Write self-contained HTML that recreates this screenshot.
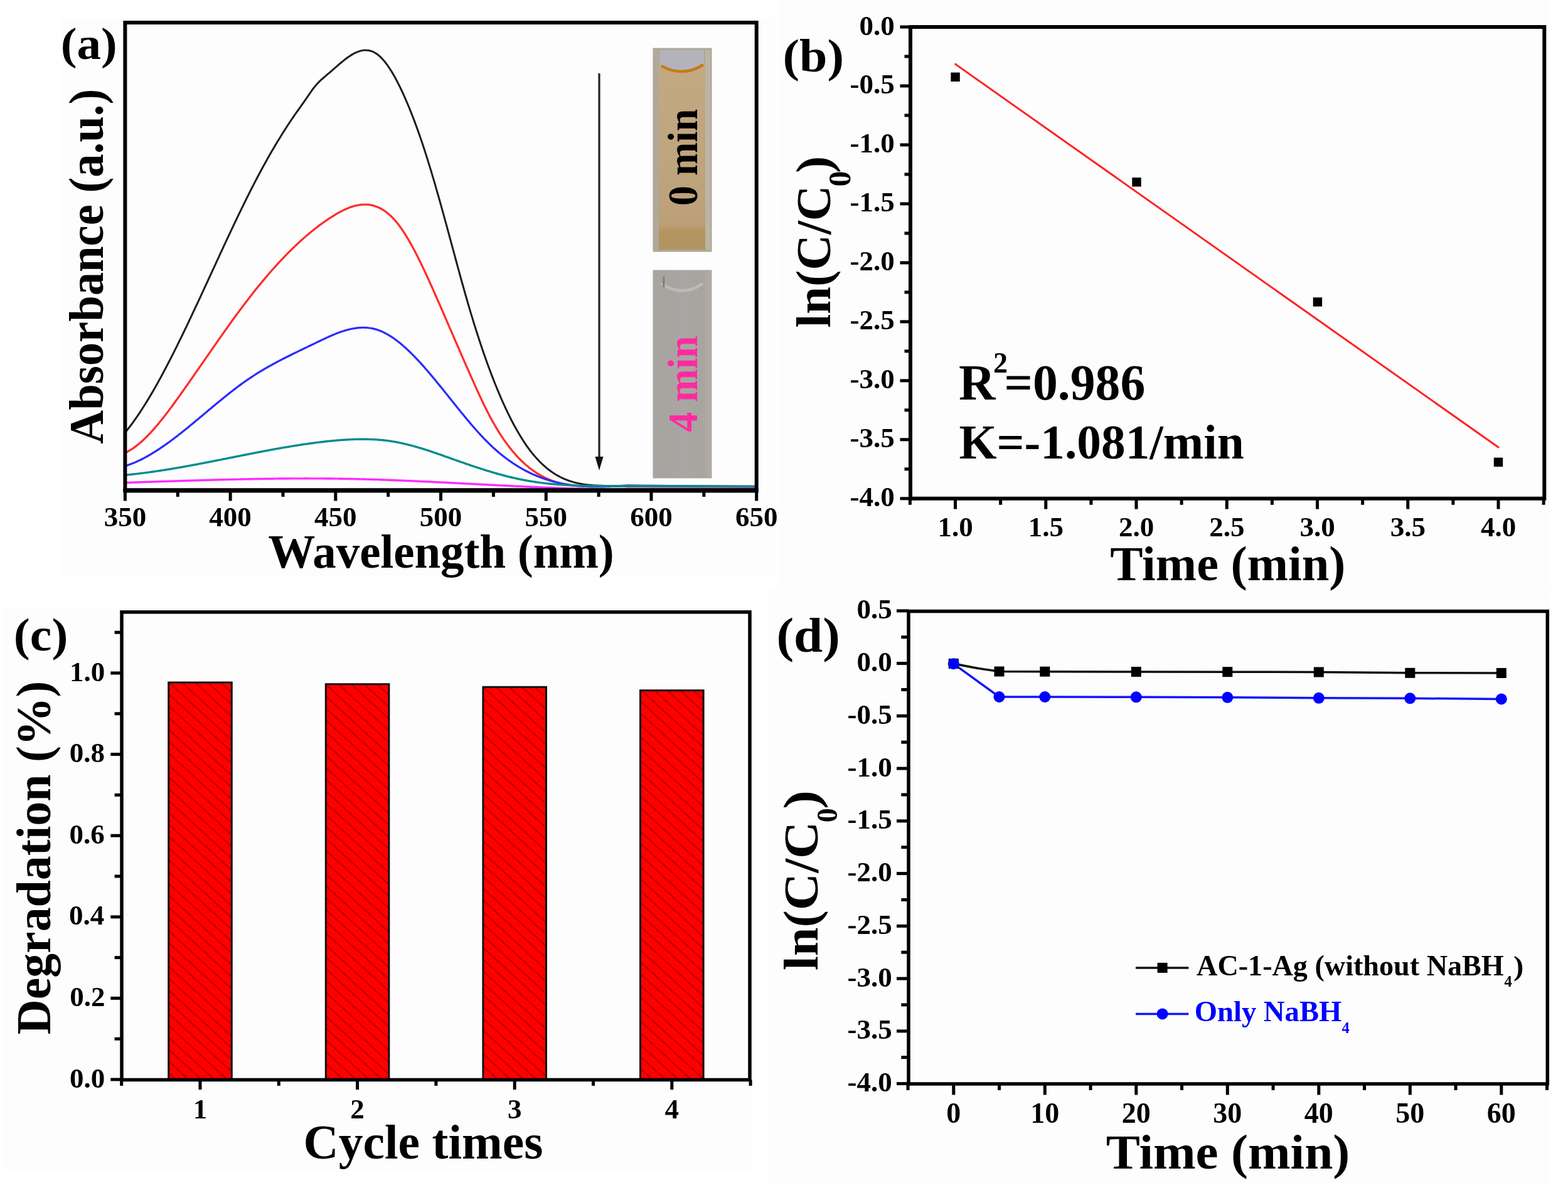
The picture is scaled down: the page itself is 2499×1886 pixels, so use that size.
<!DOCTYPE html>
<html><head><meta charset="utf-8"><title>Figure</title>
<style>html,body{margin:0;padding:0;background:#fff;} body{width:2499px;height:1886px;overflow:hidden;}</style>
</head><body>
<svg width="2499" height="1886" viewBox="0 0 2499 1886" style="display:block;font-family:'Liberation Serif',serif;font-weight:bold">
<rect x="0" y="0" width="2499" height="1886" fill="#ffffff"/>
<rect x="97" y="29" width="1139" height="891" fill="#fdfdfd"/>
<rect x="1240" y="0" width="1230" height="936" fill="#fdfdfd"/>
<rect x="5" y="968" width="1195" height="897" fill="#fdfdfd"/>
<rect x="1224" y="939" width="1246" height="947" fill="#fdfdfd"/>
<defs>
<linearGradient id="liq0" x1="0" y1="0" x2="0" y2="1">
<stop offset="0" stop-color="#c2a982"/><stop offset="0.5" stop-color="#bfa57d"/><stop offset="0.86" stop-color="#bba078"/><stop offset="0.9" stop-color="#b59560"/><stop offset="1" stop-color="#b09465"/></linearGradient>
<linearGradient id="liq4" x1="0" y1="0" x2="1" y2="0">
<stop offset="0" stop-color="#aaa6a0"/><stop offset="0.15" stop-color="#a7a39f"/><stop offset="0.5" stop-color="#a9a6a3"/><stop offset="0.85" stop-color="#a8a5a0"/><stop offset="1" stop-color="#b0aca6"/></linearGradient>
<pattern id="hatch" patternUnits="userSpaceOnUse" width="40" height="13.9" patternTransform="rotate(42.6)">
<rect x="0" y="0" width="40" height="13.9" fill="#ff0000"/>
<line x1="0" y1="7" x2="40" y2="7" stroke="#b80000" stroke-width="2"/></pattern>
</defs>
<rect x="1040.5" y="76.5" width="94" height="325" fill="#b0a898"/>
<rect x="1050" y="104" width="74" height="294" fill="url(#liq0)"/>
<rect x="1124" y="80" width="8" height="318" fill="#bcb4a4"/>
<path d="M1052,80 L1122,80 L1122,104 Q1088,124 1052,106 Z" fill="#b4b3bb"/>
<path d="M1054,105 Q1088,124 1121,103" fill="none" stroke="#c47c14" stroke-width="4.5"/>
<rect x="1040.5" y="430.5" width="94" height="332" fill="url(#liq4)"/>
<path d="M1054,452 Q1088,475 1120,452" fill="none" stroke="#bdbab4" stroke-width="5"/>
<rect x="1056" y="441" width="3.5" height="17" fill="#86827d"/>
<text transform="translate(1111.00,325.60) rotate(-90)" x="-2.43" y="0" font-size="68" textLength="154.40" lengthAdjust="spacingAndGlyphs" fill="#000">0 min</text>
<text transform="translate(1111.00,687.60) rotate(-90)" x="-0.86" y="0" font-size="68" textLength="152.82" lengthAdjust="spacingAndGlyphs" fill="#ff2aa0">4 min</text>
<line x1="955.00" y1="117.00" x2="955.00" y2="732.00" stroke="#222" stroke-width="3.2" stroke-linecap="butt"/>
<path d="M948.5,728 L961.5,728 L955,750 Z" fill="#111"/>
<path d="M200.9,687.74 L202.9,685.26 L204.9,682.72 L206.9,680.13 L208.9,677.48 L210.9,674.79 L212.9,672.04 L214.9,669.24 L216.9,666.39 L218.9,663.50 L220.9,660.55 L222.9,657.56 L224.9,654.52 L226.9,651.43 L228.9,648.30 L230.9,645.13 L232.9,641.91 L234.9,638.66 L236.9,635.35 L238.9,632.01 L240.9,628.63 L242.9,625.21 L244.9,621.75 L246.9,618.26 L248.9,614.72 L250.9,611.15 L252.9,607.55 L254.9,603.91 L256.9,600.24 L258.9,596.54 L260.9,592.80 L262.9,589.03 L264.9,585.24 L266.9,581.41 L268.9,577.55 L270.9,573.67 L272.9,569.76 L274.9,565.82 L276.9,561.86 L278.9,557.88 L280.9,553.87 L282.9,549.83 L284.9,545.78 L286.9,541.70 L288.9,537.61 L290.9,533.49 L292.9,529.36 L294.9,525.20 L296.9,521.04 L298.9,516.85 L300.9,512.65 L302.9,508.43 L304.9,504.20 L306.9,499.96 L308.9,495.70 L310.9,491.43 L312.9,487.16 L314.9,482.87 L316.9,478.57 L318.9,474.27 L320.9,469.95 L322.9,465.64 L324.9,461.31 L326.9,456.98 L328.9,452.65 L330.9,448.31 L332.9,443.97 L334.9,439.63 L336.9,435.29 L338.9,430.94 L340.9,426.60 L342.9,422.26 L344.9,417.93 L346.9,413.59 L348.9,409.26 L350.9,404.93 L352.9,400.61 L354.9,396.30 L356.9,391.99 L358.9,387.70 L360.9,383.41 L362.9,379.13 L364.9,374.86 L366.9,370.60 L368.9,366.35 L370.9,362.12 L372.9,357.90 L374.9,353.70 L376.9,349.51 L378.9,345.33 L380.9,341.18 L382.9,337.04 L384.9,332.92 L386.9,328.82 L388.9,324.74 L390.9,320.68 L392.9,316.65 L394.9,312.63 L396.9,308.64 L398.9,304.67 L400.9,300.73 L402.9,296.82 L404.9,292.93 L406.9,289.07 L408.9,285.24 L410.9,281.43 L412.9,277.66 L414.9,273.92 L416.9,270.20 L418.9,266.52 L420.9,262.87 L422.9,259.25 L424.9,255.66 L426.9,252.10 L428.9,248.57 L430.9,245.07 L432.9,241.60 L434.9,238.16 L436.9,234.76 L438.9,231.38 L440.9,228.03 L442.9,224.72 L444.9,221.43 L446.9,218.17 L448.9,214.95 L450.9,211.75 L452.9,208.59 L454.9,205.46 L456.9,202.35 L458.9,199.28 L460.9,196.24 L462.9,193.22 L464.9,190.24 L466.9,187.29 L468.9,184.37 L470.9,181.48 L472.9,178.65 L474.9,175.86 L476.9,173.08 L478.9,170.29 L480.9,167.49 L482.9,164.66 L484.9,161.80 L486.9,158.91 L488.9,155.99 L490.9,153.06 L492.9,150.14 L494.9,147.26 L496.9,144.44 L498.9,141.71 L500.9,139.10 L502.9,136.63 L504.9,134.32 L506.9,132.17 L508.9,130.13 L510.9,128.18 L512.9,126.32 L514.9,124.52 L516.9,122.78 L518.9,121.08 L520.9,119.39 L522.9,117.72 L524.9,116.04 L526.9,114.34 L528.9,112.62 L530.9,110.88 L532.9,109.14 L534.9,107.39 L536.9,105.64 L538.9,103.91 L540.9,102.19 L542.9,100.49 L544.9,98.81 L546.9,97.17 L548.9,95.57 L550.9,94.02 L552.9,92.52 L554.9,91.07 L556.9,89.69 L558.9,88.38 L560.9,87.15 L562.9,85.99 L564.9,84.93 L566.9,83.95 L568.9,83.07 L570.9,82.30 L572.9,81.63 L574.9,81.07 L576.9,80.63 L578.9,80.31 L580.9,80.11 L582.9,80.05 L584.9,80.13 L586.9,80.35 L588.9,80.71 L590.9,81.23 L592.9,81.90 L594.9,82.74 L596.9,83.74 L598.9,84.92 L600.9,86.27 L602.9,87.80 L604.9,89.51 L606.9,91.38 L608.9,93.43 L610.9,95.64 L612.9,98.01 L614.9,100.53 L616.9,103.22 L618.9,106.05 L620.9,109.02 L622.9,112.14 L624.9,115.40 L626.9,118.79 L628.9,122.31 L630.9,125.96 L632.9,129.74 L634.9,133.63 L636.9,137.65 L638.9,141.77 L640.9,146.01 L642.9,150.35 L644.9,154.80 L646.9,159.35 L648.9,164.01 L650.9,168.77 L652.9,173.64 L654.9,178.61 L656.9,183.69 L658.9,188.87 L660.9,194.15 L662.9,199.54 L664.9,205.04 L666.9,210.63 L668.9,216.33 L670.9,222.13 L672.9,228.03 L674.9,234.04 L676.9,240.15 L678.9,246.36 L680.9,252.67 L682.9,259.08 L684.9,265.58 L686.9,272.18 L688.9,278.86 L690.9,285.62 L692.9,292.45 L694.9,299.36 L696.9,306.33 L698.9,313.37 L700.9,320.46 L702.9,327.61 L704.9,334.81 L706.9,342.05 L708.9,349.33 L710.9,356.64 L712.9,363.98 L714.9,371.36 L716.9,378.75 L718.9,386.15 L720.9,393.56 L722.9,400.97 L724.9,408.37 L726.9,415.76 L728.9,423.13 L730.9,430.47 L732.9,437.77 L734.9,445.04 L736.9,452.25 L738.9,459.41 L740.9,466.51 L742.9,473.53 L744.9,480.48 L746.9,487.35 L748.9,494.13 L750.9,500.82 L752.9,507.43 L754.9,513.95 L756.9,520.38 L758.9,526.72 L760.9,532.98 L762.9,539.16 L764.9,545.24 L766.9,551.24 L768.9,557.16 L770.9,562.98 L772.9,568.72 L774.9,574.38 L776.9,579.95 L778.9,585.43 L780.9,590.82 L782.9,596.13 L784.9,601.36 L786.9,606.50 L788.9,611.55 L790.9,616.51 L792.9,621.39 L794.9,626.19 L796.9,630.90 L798.9,635.52 L800.9,640.06 L802.9,644.51 L804.9,648.87 L806.9,653.15 L808.9,657.35 L810.9,661.46 L812.9,665.48 L814.9,669.42 L816.9,673.27 L818.9,677.04 L820.9,680.72 L822.9,684.32 L824.9,687.83 L826.9,691.26 L828.9,694.60 L830.9,697.86 L832.9,701.03 L834.9,704.11 L836.9,707.12 L838.9,710.03 L840.9,712.87 L842.9,715.61 L844.9,718.28 L846.9,720.86 L848.9,723.36 L850.9,725.78 L852.9,728.12 L854.9,730.38 L856.9,732.57 L858.9,734.69 L860.9,736.73 L862.9,738.70 L864.9,740.59 L866.9,742.42 L868.9,744.18 L870.9,745.88 L872.9,747.50 L874.9,749.07 L876.9,750.57 L878.9,752.01 L880.9,753.39 L882.9,754.71 L884.9,755.97 L886.9,757.18 L888.9,758.33 L890.9,759.43 L892.9,760.48 L894.9,761.48 L896.9,762.42 L898.9,763.32 L900.9,764.17 L902.9,764.97 L904.9,765.74 L906.9,766.45 L908.9,767.13 L910.9,767.76 L912.9,768.36 L914.9,768.92 L916.9,769.44 L918.9,769.93 L920.9,770.38 L922.9,770.80 L924.9,771.19 L926.9,771.55 L928.9,771.88 L930.9,772.18 L932.9,772.46 L934.9,772.71 L936.9,772.94 L938.9,773.15 L940.9,773.34 L942.9,773.51 L944.9,773.66 L946.9,773.79 L948.9,773.91 L950.9,774.01 L952.9,774.10 L954.9,774.18 L956.9,774.25 L958.9,774.31 L960.9,774.36 L962.9,774.40 L964.9,774.45 L966.9,774.48 L968.9,774.52 L970.9,774.55 L972.9,774.59 L974.9,774.62 L976.9,774.66 L978.9,774.71 L980.9,774.76 L982.9,774.81 L984.9,774.88 L986.9,774.95 L988.9,775.04 L990.9,775.13 L992.9,775.24 L994.9,775.37 L996.9,775.51 L998.9,775.67 L1000.0,775.77 L1203.0,775.80" fill="none" stroke="#1e1e1e" stroke-width="3" stroke-linejoin="round"/>
<path d="M199.3,721.91 L201.3,720.98 L203.3,719.97 L205.3,718.89 L207.3,717.73 L209.3,716.50 L211.3,715.21 L213.3,713.84 L215.3,712.40 L217.3,710.90 L219.3,709.34 L221.3,707.72 L223.3,706.03 L225.3,704.28 L227.3,702.48 L229.3,700.62 L231.3,698.71 L233.3,696.74 L235.3,694.72 L237.3,692.66 L239.3,690.54 L241.3,688.38 L243.3,686.17 L245.3,683.92 L247.3,681.63 L249.3,679.29 L251.3,676.92 L253.3,674.51 L255.3,672.07 L257.3,669.59 L259.3,667.07 L261.3,664.53 L263.3,661.96 L265.3,659.36 L267.3,656.73 L269.3,654.08 L271.3,651.40 L273.3,648.71 L275.3,645.99 L277.3,643.26 L279.3,640.50 L281.3,637.74 L283.3,634.95 L285.3,632.16 L287.3,629.36 L289.3,626.54 L291.3,623.72 L293.3,620.89 L295.3,618.06 L297.3,615.21 L299.3,612.36 L301.3,609.51 L303.3,606.65 L305.3,603.78 L307.3,600.91 L309.3,598.04 L311.3,595.16 L313.3,592.28 L315.3,589.40 L317.3,586.52 L319.3,583.63 L321.3,580.74 L323.3,577.85 L325.3,574.97 L327.3,572.08 L329.3,569.19 L331.3,566.31 L333.3,563.42 L335.3,560.54 L337.3,557.66 L339.3,554.78 L341.3,551.91 L343.3,549.04 L345.3,546.17 L347.3,543.31 L349.3,540.46 L351.3,537.61 L353.3,534.77 L355.3,531.93 L357.3,529.10 L359.3,526.28 L361.3,523.47 L363.3,520.66 L365.3,517.87 L367.3,515.08 L369.3,512.30 L371.3,509.54 L373.3,506.78 L375.3,504.04 L377.3,501.31 L379.3,498.59 L381.3,495.88 L383.3,493.18 L385.3,490.50 L387.3,487.84 L389.3,485.18 L391.3,482.55 L393.3,479.93 L395.3,477.32 L397.3,474.73 L399.3,472.16 L401.3,469.60 L403.3,467.06 L405.3,464.54 L407.3,462.03 L409.3,459.54 L411.3,457.07 L413.3,454.62 L415.3,452.18 L417.3,449.76 L419.3,447.36 L421.3,444.97 L423.3,442.61 L425.3,440.26 L427.3,437.93 L429.3,435.62 L431.3,433.32 L433.3,431.05 L435.3,428.79 L437.3,426.55 L439.3,424.33 L441.3,422.13 L443.3,419.94 L445.3,417.78 L447.3,415.63 L449.3,413.51 L451.3,411.40 L453.3,409.31 L455.3,407.25 L457.3,405.20 L459.3,403.17 L461.3,401.16 L463.3,399.17 L465.3,397.20 L467.3,395.25 L469.3,393.32 L471.3,391.41 L473.3,389.53 L475.3,387.66 L477.3,385.81 L479.3,383.98 L481.3,382.18 L483.3,380.39 L485.3,378.63 L487.3,376.89 L489.3,375.16 L491.3,373.46 L493.3,371.78 L495.3,370.13 L497.3,368.49 L499.3,366.88 L501.3,365.28 L503.3,363.71 L505.3,362.16 L507.3,360.64 L509.3,359.13 L511.3,357.65 L513.3,356.19 L515.3,354.75 L517.3,353.34 L519.3,351.95 L521.3,350.58 L523.3,349.23 L525.3,347.91 L527.3,346.61 L529.3,345.34 L531.3,344.08 L533.3,342.86 L535.3,341.66 L537.3,340.49 L539.3,339.35 L541.3,338.25 L543.3,337.18 L545.3,336.15 L547.3,335.16 L549.3,334.20 L551.3,333.29 L553.3,332.43 L555.3,331.61 L557.3,330.84 L559.3,330.12 L561.3,329.45 L563.3,328.84 L565.3,328.28 L567.3,327.78 L569.3,327.34 L571.3,326.96 L573.3,326.65 L575.3,326.40 L577.3,326.21 L579.3,326.10 L581.3,326.05 L583.3,326.08 L585.3,326.18 L587.3,326.36 L589.3,326.62 L591.3,326.95 L593.3,327.37 L595.3,327.88 L597.3,328.46 L599.3,329.14 L601.3,329.90 L603.3,330.76 L605.3,331.71 L607.3,332.75 L609.3,333.89 L611.3,335.13 L613.3,336.47 L615.3,337.92 L617.3,339.46 L619.3,341.11 L621.3,342.88 L623.3,344.75 L625.3,346.73 L627.3,348.82 L629.3,351.04 L631.3,353.36 L633.3,355.81 L635.3,358.38 L637.3,361.05 L639.3,363.84 L641.3,366.73 L643.3,369.73 L645.3,372.83 L647.3,376.03 L649.3,379.31 L651.3,382.69 L653.3,386.16 L655.3,389.71 L657.3,393.34 L659.3,397.05 L661.3,400.83 L663.3,404.68 L665.3,408.60 L667.3,412.59 L669.3,416.63 L671.3,420.74 L673.3,424.89 L675.3,429.10 L677.3,433.36 L679.3,437.66 L681.3,442.00 L683.3,446.38 L685.3,450.79 L687.3,455.24 L689.3,459.71 L691.3,464.21 L693.3,468.73 L695.3,473.27 L697.3,477.82 L699.3,482.39 L701.3,486.96 L703.3,491.55 L705.3,496.14 L707.3,500.74 L709.3,505.34 L711.3,509.95 L713.3,514.57 L715.3,519.19 L717.3,523.80 L719.3,528.42 L721.3,533.05 L723.3,537.67 L725.3,542.28 L727.3,546.90 L729.3,551.51 L731.3,556.12 L733.3,560.72 L735.3,565.31 L737.3,569.90 L739.3,574.48 L741.3,579.05 L743.3,583.61 L745.3,588.16 L747.3,592.69 L749.3,597.21 L751.3,601.72 L753.3,606.21 L755.3,610.69 L757.3,615.13 L759.3,619.56 L761.3,623.94 L763.3,628.29 L765.3,632.60 L767.3,636.86 L769.3,641.06 L771.3,645.21 L773.3,649.29 L775.3,653.31 L777.3,657.26 L779.3,661.13 L781.3,664.92 L783.3,668.63 L785.3,672.25 L787.3,675.79 L789.3,679.25 L791.3,682.63 L793.3,685.93 L795.3,689.15 L797.3,692.30 L799.3,695.36 L801.3,698.36 L803.3,701.28 L805.3,704.12 L807.3,706.90 L809.3,709.60 L811.3,712.23 L813.3,714.79 L815.3,717.28 L817.3,719.70 L819.3,722.06 L821.3,724.35 L823.3,726.57 L825.3,728.73 L827.3,730.83 L829.3,732.86 L831.3,734.84 L833.3,736.75 L835.3,738.60 L837.3,740.40 L839.3,742.13 L841.3,743.81 L843.3,745.43 L845.3,747.00 L847.3,748.52 L849.3,749.98 L851.3,751.38 L853.3,752.74 L855.3,754.05 L857.3,755.30 L859.3,756.51 L861.3,757.67 L863.3,758.79 L865.3,759.85 L867.3,760.88 L869.3,761.85 L871.3,762.79 L873.3,763.68 L875.3,764.54 L877.3,765.35 L879.3,766.12 L881.3,766.85 L883.3,767.55 L885.3,768.21 L887.3,768.83 L889.3,769.42 L891.3,769.98 L893.3,770.50 L895.3,770.99 L897.3,771.45 L899.3,771.88 L901.3,772.28 L903.3,772.65 L905.3,772.99 L907.3,773.31 L909.3,773.60 L911.3,773.87 L913.3,774.11 L915.3,774.33 L917.3,774.53 L919.3,774.71 L921.3,774.86 L923.3,775.00 L925.3,775.12 L927.3,775.23 L929.3,775.31 L931.3,775.38 L933.3,775.44 L935.3,775.48 L937.3,775.51 L939.3,775.53 L941.3,775.54 L943.3,775.54 L945.3,775.53 L947.3,775.51 L949.3,775.48 L951.3,775.45 L953.3,775.41 L955.3,775.37 L957.3,775.33 L959.3,775.28 L961.3,775.23 L963.3,775.18 L965.3,775.13 L967.3,775.08 L969.3,775.03 L971.3,774.99 L973.3,774.95 L975.3,774.91 L977.3,774.89 L979.3,774.86 L981.3,774.85 L983.3,774.84 L985.3,774.85 L987.3,774.86 L989.3,774.88 L991.3,774.92 L993.3,774.97 L995.3,775.04 L997.3,775.12 L999.3,775.21 L1000.0,775.25 L1203.0,775.80" fill="none" stroke="#ff2b2b" stroke-width="3.2" stroke-linejoin="round"/>
<path d="M199.3,742.97 L201.3,742.35 L203.3,741.70 L205.3,741.01 L207.3,740.29 L209.3,739.54 L211.3,738.76 L213.3,737.95 L215.3,737.11 L217.3,736.23 L219.3,735.33 L221.3,734.41 L223.3,733.45 L225.3,732.46 L227.3,731.45 L229.3,730.42 L231.3,729.35 L233.3,728.26 L235.3,727.15 L237.3,726.01 L239.3,724.85 L241.3,723.67 L243.3,722.46 L245.3,721.23 L247.3,719.98 L249.3,718.71 L251.3,717.42 L253.3,716.11 L255.3,714.78 L257.3,713.43 L259.3,712.06 L261.3,710.67 L263.3,709.27 L265.3,707.85 L267.3,706.41 L269.3,704.96 L271.3,703.49 L273.3,702.01 L275.3,700.51 L277.3,699.00 L279.3,697.48 L281.3,695.95 L283.3,694.40 L285.3,692.84 L287.3,691.27 L289.3,689.69 L291.3,688.10 L293.3,686.50 L295.3,684.89 L297.3,683.27 L299.3,681.65 L301.3,680.02 L303.3,678.38 L305.3,676.73 L307.3,675.08 L309.3,673.43 L311.3,671.77 L313.3,670.10 L315.3,668.43 L317.3,666.76 L319.3,665.09 L321.3,663.41 L323.3,661.74 L325.3,660.06 L327.3,658.38 L329.3,656.70 L331.3,655.02 L333.3,653.35 L335.3,651.67 L337.3,650.00 L339.3,648.33 L341.3,646.66 L343.3,645.00 L345.3,643.34 L347.3,641.69 L349.3,640.04 L351.3,638.40 L353.3,636.76 L355.3,635.14 L357.3,633.52 L359.3,631.90 L361.3,630.30 L363.3,628.70 L365.3,627.12 L367.3,625.54 L369.3,623.98 L371.3,622.43 L373.3,620.88 L375.3,619.36 L377.3,617.84 L379.3,616.34 L381.3,614.85 L383.3,613.37 L385.3,611.91 L387.3,610.47 L389.3,609.04 L391.3,607.63 L393.3,606.23 L395.3,604.86 L397.3,603.50 L399.3,602.15 L401.3,600.83 L403.3,599.52 L405.3,598.23 L407.3,596.95 L409.3,595.69 L411.3,594.44 L413.3,593.20 L415.3,591.99 L417.3,590.78 L419.3,589.59 L421.3,588.41 L423.3,587.24 L425.3,586.09 L427.3,584.95 L429.3,583.82 L431.3,582.70 L433.3,581.59 L435.3,580.49 L437.3,579.40 L439.3,578.32 L441.3,577.25 L443.3,576.19 L445.3,575.14 L447.3,574.10 L449.3,573.06 L451.3,572.03 L453.3,571.01 L455.3,569.99 L457.3,568.99 L459.3,567.98 L461.3,566.98 L463.3,565.99 L465.3,565.00 L467.3,564.02 L469.3,563.04 L471.3,562.07 L473.3,561.09 L475.3,560.12 L477.3,559.16 L479.3,558.19 L481.3,557.23 L483.3,556.27 L485.3,555.31 L487.3,554.34 L489.3,553.38 L491.3,552.42 L493.3,551.46 L495.3,550.50 L497.3,549.54 L499.3,548.57 L501.3,547.61 L503.3,546.64 L505.3,545.67 L507.3,544.71 L509.3,543.74 L511.3,542.78 L513.3,541.83 L515.3,540.88 L517.3,539.94 L519.3,539.01 L521.3,538.10 L523.3,537.19 L525.3,536.30 L527.3,535.42 L529.3,534.56 L531.3,533.71 L533.3,532.89 L535.3,532.09 L537.3,531.30 L539.3,530.54 L541.3,529.81 L543.3,529.10 L545.3,528.42 L547.3,527.76 L549.3,527.14 L551.3,526.54 L553.3,525.98 L555.3,525.46 L557.3,524.96 L559.3,524.51 L561.3,524.09 L563.3,523.71 L565.3,523.37 L567.3,523.08 L569.3,522.83 L571.3,522.62 L573.3,522.46 L575.3,522.34 L577.3,522.27 L579.3,522.26 L581.3,522.29 L583.3,522.38 L585.3,522.52 L587.3,522.72 L589.3,522.97 L591.3,523.29 L593.3,523.66 L595.3,524.09 L597.3,524.58 L599.3,525.14 L601.3,525.77 L603.3,526.45 L605.3,527.20 L607.3,528.01 L609.3,528.88 L611.3,529.81 L613.3,530.80 L615.3,531.85 L617.3,532.95 L619.3,534.11 L621.3,535.33 L623.3,536.59 L625.3,537.91 L627.3,539.28 L629.3,540.69 L631.3,542.16 L633.3,543.67 L635.3,545.23 L637.3,546.83 L639.3,548.48 L641.3,550.17 L643.3,551.91 L645.3,553.68 L647.3,555.49 L649.3,557.35 L651.3,559.24 L653.3,561.16 L655.3,563.12 L657.3,565.12 L659.3,567.14 L661.3,569.20 L663.3,571.29 L665.3,573.41 L667.3,575.56 L669.3,577.74 L671.3,579.94 L673.3,582.17 L675.3,584.42 L677.3,586.69 L679.3,588.99 L681.3,591.30 L683.3,593.64 L685.3,596.00 L687.3,598.37 L689.3,600.76 L691.3,603.16 L693.3,605.58 L695.3,608.01 L697.3,610.45 L699.3,612.91 L701.3,615.37 L703.3,617.84 L705.3,620.32 L707.3,622.81 L709.3,625.30 L711.3,627.79 L713.3,630.29 L715.3,632.79 L717.3,635.29 L719.3,637.79 L721.3,640.29 L723.3,642.78 L725.3,645.28 L727.3,647.76 L729.3,650.25 L731.3,652.72 L733.3,655.19 L735.3,657.65 L737.3,660.09 L739.3,662.53 L741.3,664.95 L743.3,667.36 L745.3,669.76 L747.3,672.14 L749.3,674.50 L751.3,676.84 L753.3,679.17 L755.3,681.47 L757.3,683.76 L759.3,686.02 L761.3,688.26 L763.3,690.47 L765.3,692.66 L767.3,694.82 L769.3,696.95 L771.3,699.05 L773.3,701.12 L775.3,703.16 L777.3,705.17 L779.3,707.15 L781.3,709.09 L783.3,710.99 L785.3,712.86 L787.3,714.70 L789.3,716.50 L791.3,718.27 L793.3,720.00 L795.3,721.70 L797.3,723.37 L799.3,725.01 L801.3,726.61 L803.3,728.18 L805.3,729.72 L807.3,731.22 L809.3,732.70 L811.3,734.14 L813.3,735.56 L815.3,736.94 L817.3,738.29 L819.3,739.62 L821.3,740.91 L823.3,742.17 L825.3,743.41 L827.3,744.62 L829.3,745.80 L831.3,746.95 L833.3,748.07 L835.3,749.17 L837.3,750.23 L839.3,751.27 L841.3,752.29 L843.3,753.28 L845.3,754.24 L847.3,755.18 L849.3,756.09 L851.3,756.98 L853.3,757.84 L855.3,758.68 L857.3,759.49 L859.3,760.28 L861.3,761.04 L863.3,761.79 L865.3,762.51 L867.3,763.20 L869.3,763.88 L871.3,764.53 L873.3,765.16 L875.3,765.77 L877.3,766.36 L879.3,766.92 L881.3,767.47 L883.3,768.00 L885.3,768.50 L887.3,768.99 L889.3,769.46 L891.3,769.90 L893.3,770.33 L895.3,770.74 L897.3,771.13 L899.3,771.51 L901.3,771.86 L903.3,772.20 L905.3,772.53 L907.3,772.83 L909.3,773.12 L911.3,773.39 L913.3,773.65 L915.3,773.89 L917.3,774.12 L919.3,774.33 L921.3,774.52 L923.3,774.71 L925.3,774.87 L927.3,775.03 L929.3,775.17 L931.3,775.30 L933.3,775.41 L935.3,775.51 L937.3,775.60 L939.3,775.68 L941.3,775.75 L943.3,775.80 L945.3,775.85 L947.3,775.88 L949.3,775.90 L951.3,775.91 L953.3,775.91 L955.3,775.91 L957.3,775.89 L959.3,775.86 L961.3,775.83 L963.3,775.79 L965.3,775.73 L967.3,775.68 L969.3,775.61 L971.3,775.53 L973.3,775.45 L975.3,775.37 L977.3,775.27 L979.3,775.17 L981.3,775.07 L983.3,774.96 L985.3,774.84 L987.3,774.72 L989.3,774.59 L991.3,774.46 L993.3,774.33 L995.3,774.19 L997.3,774.05 L999.3,773.91 L1000.0,773.85 L1203.0,775.80" fill="none" stroke="#2b2bff" stroke-width="3.2" stroke-linejoin="round"/>
<path d="M200.0,757.27 L202.0,757.08 L204.0,756.89 L206.0,756.69 L208.0,756.48 L210.0,756.27 L212.0,756.06 L214.0,755.84 L216.0,755.61 L218.0,755.38 L220.0,755.15 L222.0,754.91 L224.0,754.67 L226.0,754.42 L228.0,754.17 L230.0,753.92 L232.0,753.66 L234.0,753.39 L236.0,753.13 L238.0,752.86 L240.0,752.58 L242.0,752.30 L244.0,752.02 L246.0,751.73 L248.0,751.44 L250.0,751.15 L252.0,750.85 L254.0,750.55 L256.0,750.25 L258.0,749.94 L260.0,749.63 L262.0,749.31 L264.0,749.00 L266.0,748.68 L268.0,748.35 L270.0,748.03 L272.0,747.70 L274.0,747.36 L276.0,747.03 L278.0,746.69 L280.0,746.35 L282.0,746.01 L284.0,745.66 L286.0,745.31 L288.0,744.96 L290.0,744.61 L292.0,744.25 L294.0,743.90 L296.0,743.54 L298.0,743.17 L300.0,742.81 L302.0,742.44 L304.0,742.07 L306.0,741.70 L308.0,741.33 L310.0,740.96 L312.0,740.58 L314.0,740.21 L316.0,739.83 L318.0,739.45 L320.0,739.06 L322.0,738.68 L324.0,738.30 L326.0,737.91 L328.0,737.52 L330.0,737.13 L332.0,736.75 L334.0,736.35 L336.0,735.96 L338.0,735.57 L340.0,735.18 L342.0,734.78 L344.0,734.39 L346.0,733.99 L348.0,733.60 L350.0,733.20 L352.0,732.80 L354.0,732.40 L356.0,732.00 L358.0,731.61 L360.0,731.21 L362.0,730.81 L364.0,730.41 L366.0,730.01 L368.0,729.61 L370.0,729.21 L372.0,728.81 L374.0,728.41 L376.0,728.01 L378.0,727.61 L380.0,727.21 L382.0,726.82 L384.0,726.42 L386.0,726.02 L388.0,725.62 L390.0,725.23 L392.0,724.83 L394.0,724.44 L396.0,724.04 L398.0,723.65 L400.0,723.26 L402.0,722.87 L404.0,722.48 L406.0,722.09 L408.0,721.70 L410.0,721.31 L412.0,720.93 L414.0,720.54 L416.0,720.16 L418.0,719.78 L420.0,719.40 L422.0,719.02 L424.0,718.65 L426.0,718.27 L428.0,717.90 L430.0,717.53 L432.0,717.16 L434.0,716.79 L436.0,716.43 L438.0,716.06 L440.0,715.70 L442.0,715.34 L444.0,714.99 L446.0,714.63 L448.0,714.28 L450.0,713.93 L452.0,713.59 L454.0,713.24 L456.0,712.90 L458.0,712.56 L460.0,712.23 L462.0,711.89 L464.0,711.56 L466.0,711.24 L468.0,710.91 L470.0,710.59 L472.0,710.27 L474.0,709.96 L476.0,709.65 L478.0,709.34 L480.0,709.04 L482.0,708.73 L484.0,708.44 L486.0,708.14 L488.0,707.85 L490.0,707.57 L492.0,707.29 L494.0,707.01 L496.0,706.73 L498.0,706.46 L500.0,706.20 L502.0,705.93 L504.0,705.68 L506.0,705.42 L508.0,705.17 L510.0,704.93 L512.0,704.69 L514.0,704.45 L516.0,704.22 L518.0,704.00 L520.0,703.77 L522.0,703.56 L524.0,703.34 L526.0,703.14 L528.0,702.94 L530.0,702.74 L532.0,702.55 L534.0,702.36 L536.0,702.18 L538.0,702.01 L540.0,701.84 L542.0,701.68 L544.0,701.53 L546.0,701.38 L548.0,701.24 L550.0,701.11 L552.0,700.99 L554.0,700.87 L556.0,700.77 L558.0,700.67 L560.0,700.58 L562.0,700.49 L564.0,700.42 L566.0,700.36 L568.0,700.30 L570.0,700.26 L572.0,700.23 L574.0,700.20 L576.0,700.19 L578.0,700.18 L580.0,700.19 L582.0,700.21 L584.0,700.24 L586.0,700.28 L588.0,700.33 L590.0,700.40 L592.0,700.47 L594.0,700.56 L596.0,700.66 L598.0,700.78 L600.0,700.91 L602.0,701.05 L604.0,701.20 L606.0,701.37 L608.0,701.55 L610.0,701.74 L612.0,701.95 L614.0,702.18 L616.0,702.41 L618.0,702.67 L620.0,702.93 L622.0,703.22 L624.0,703.52 L626.0,703.83 L628.0,704.16 L630.0,704.51 L632.0,704.87 L634.0,705.25 L636.0,705.65 L638.0,706.06 L640.0,706.48 L642.0,706.92 L644.0,707.37 L646.0,707.84 L648.0,708.32 L650.0,708.81 L652.0,709.32 L654.0,709.83 L656.0,710.36 L658.0,710.90 L660.0,711.46 L662.0,712.02 L664.0,712.59 L666.0,713.17 L668.0,713.77 L670.0,714.37 L672.0,714.98 L674.0,715.60 L676.0,716.23 L678.0,716.86 L680.0,717.50 L682.0,718.15 L684.0,718.81 L686.0,719.47 L688.0,720.14 L690.0,720.81 L692.0,721.49 L694.0,722.18 L696.0,722.86 L698.0,723.56 L700.0,724.25 L702.0,724.95 L704.0,725.65 L706.0,726.36 L708.0,727.07 L710.0,727.78 L712.0,728.49 L714.0,729.20 L716.0,729.91 L718.0,730.63 L720.0,731.34 L722.0,732.05 L724.0,732.76 L726.0,733.48 L728.0,734.19 L730.0,734.89 L732.0,735.60 L734.0,736.30 L736.0,737.01 L738.0,737.70 L740.0,738.40 L742.0,739.09 L744.0,739.78 L746.0,740.47 L748.0,741.15 L750.0,741.83 L752.0,742.50 L754.0,743.18 L756.0,743.84 L758.0,744.51 L760.0,745.17 L762.0,745.82 L764.0,746.47 L766.0,747.11 L768.0,747.75 L770.0,748.39 L772.0,749.02 L774.0,749.64 L776.0,750.26 L778.0,750.88 L780.0,751.48 L782.0,752.08 L784.0,752.68 L786.0,753.27 L788.0,753.85 L790.0,754.43 L792.0,755.00 L794.0,755.56 L796.0,756.11 L798.0,756.66 L800.0,757.20 L802.0,757.74 L804.0,758.26 L806.0,758.78 L808.0,759.29 L810.0,759.79 L812.0,760.29 L814.0,760.77 L816.0,761.25 L818.0,761.72 L820.0,762.18 L822.0,762.63 L824.0,763.07 L826.0,763.50 L828.0,763.93 L830.0,764.34 L832.0,764.74 L834.0,765.14 L836.0,765.52 L838.0,765.89 L840.0,766.26 L842.0,766.61 L844.0,766.95 L846.0,767.29 L848.0,767.61 L850.0,767.93 L852.0,768.24 L854.0,768.53 L856.0,768.82 L858.0,769.10 L860.0,769.37 L862.0,769.63 L864.0,769.89 L866.0,770.13 L868.0,770.37 L870.0,770.60 L872.0,770.82 L874.0,771.03 L876.0,771.24 L878.0,771.44 L880.0,771.63 L882.0,771.81 L884.0,771.99 L886.0,772.16 L888.0,772.32 L890.0,772.47 L892.0,772.62 L894.0,772.77 L896.0,772.90 L898.0,773.04 L900.0,773.16 L902.0,773.28 L904.0,773.39 L906.0,773.50 L908.0,773.60 L910.0,773.70 L912.0,773.79 L914.0,773.88 L916.0,773.96 L918.0,774.04 L920.0,774.11 L922.0,774.18 L924.0,774.24 L926.0,774.30 L928.0,774.35 L930.0,774.41 L932.0,774.45 L934.0,774.50 L936.0,774.54 L938.0,774.57 L940.0,774.61 L942.0,774.64 L944.0,774.66 L946.0,774.69 L948.0,774.71 L950.0,774.73 L952.0,774.74 L954.0,774.76 L956.0,774.77 L958.0,774.78 L960.0,774.79 L962.0,774.79 L964.0,774.80 L966.0,774.80 L968.0,774.80 L970.0,774.80 L972.0,774.80 L974.0,774.80 L976.0,774.80 L978.0,774.79 L980.0,774.79 L982.0,774.79 L984.0,774.78 L986.0,774.78 L988.0,774.77 L990.0,774.77 L992.0,774.76 L994.0,774.76 L996.0,774.75 L998.0,774.75 L1000.0,774.75 L1203.0,775.30" fill="none" stroke="#008c8c" stroke-width="3.4" stroke-linejoin="round"/>
<path d="M200.0,769.53 L202.0,769.46 L204.0,769.39 L206.0,769.33 L208.0,769.26 L210.0,769.20 L212.0,769.13 L214.0,769.06 L216.0,769.00 L218.0,768.93 L220.0,768.86 L222.0,768.80 L224.0,768.73 L226.0,768.66 L228.0,768.60 L230.0,768.53 L232.0,768.47 L234.0,768.40 L236.0,768.33 L238.0,768.27 L240.0,768.20 L242.0,768.13 L244.0,768.07 L246.0,768.00 L248.0,767.94 L250.0,767.87 L252.0,767.80 L254.0,767.74 L256.0,767.67 L258.0,767.61 L260.0,767.54 L262.0,767.47 L264.0,767.41 L266.0,767.34 L268.0,767.28 L270.0,767.21 L272.0,767.15 L274.0,767.09 L276.0,767.02 L278.0,766.96 L280.0,766.89 L282.0,766.83 L284.0,766.77 L286.0,766.70 L288.0,766.64 L290.0,766.58 L292.0,766.51 L294.0,766.45 L296.0,766.39 L298.0,766.33 L300.0,766.27 L302.0,766.21 L304.0,766.14 L306.0,766.08 L308.0,766.02 L310.0,765.96 L312.0,765.90 L314.0,765.84 L316.0,765.79 L318.0,765.73 L320.0,765.67 L322.0,765.61 L324.0,765.55 L326.0,765.50 L328.0,765.44 L330.0,765.38 L332.0,765.33 L334.0,765.27 L336.0,765.22 L338.0,765.16 L340.0,765.11 L342.0,765.05 L344.0,765.00 L346.0,764.95 L348.0,764.89 L350.0,764.84 L352.0,764.79 L354.0,764.74 L356.0,764.69 L358.0,764.64 L360.0,764.59 L362.0,764.54 L364.0,764.49 L366.0,764.44 L368.0,764.39 L370.0,764.35 L372.0,764.30 L374.0,764.25 L376.0,764.21 L378.0,764.16 L380.0,764.12 L382.0,764.08 L384.0,764.03 L386.0,763.99 L388.0,763.95 L390.0,763.91 L392.0,763.87 L394.0,763.83 L396.0,763.79 L398.0,763.75 L400.0,763.71 L402.0,763.68 L404.0,763.64 L406.0,763.60 L408.0,763.57 L410.0,763.53 L412.0,763.50 L414.0,763.47 L416.0,763.43 L418.0,763.40 L420.0,763.37 L422.0,763.34 L424.0,763.31 L426.0,763.28 L428.0,763.26 L430.0,763.23 L432.0,763.20 L434.0,763.18 L436.0,763.15 L438.0,763.13 L440.0,763.11 L442.0,763.09 L444.0,763.06 L446.0,763.04 L448.0,763.02 L450.0,763.01 L452.0,762.99 L454.0,762.97 L456.0,762.95 L458.0,762.94 L460.0,762.93 L462.0,762.91 L464.0,762.90 L466.0,762.89 L468.0,762.88 L470.0,762.87 L472.0,762.86 L474.0,762.85 L476.0,762.84 L478.0,762.84 L480.0,762.83 L482.0,762.83 L484.0,762.83 L486.0,762.82 L488.0,762.82 L490.0,762.82 L492.0,762.83 L494.0,762.83 L496.0,762.83 L498.0,762.84 L500.0,762.84 L502.0,762.85 L504.0,762.85 L506.0,762.86 L508.0,762.87 L510.0,762.88 L512.0,762.90 L514.0,762.91 L516.0,762.92 L518.0,762.94 L520.0,762.95 L522.0,762.97 L524.0,762.99 L526.0,763.01 L528.0,763.03 L530.0,763.05 L532.0,763.08 L534.0,763.10 L536.0,763.13 L538.0,763.15 L540.0,763.18 L542.0,763.21 L544.0,763.24 L546.0,763.27 L548.0,763.31 L550.0,763.34 L552.0,763.38 L554.0,763.41 L556.0,763.45 L558.0,763.49 L560.0,763.53 L562.0,763.57 L564.0,763.62 L566.0,763.66 L568.0,763.71 L570.0,763.75 L572.0,763.80 L574.0,763.85 L576.0,763.90 L578.0,763.95 L580.0,764.01 L582.0,764.06 L584.0,764.12 L586.0,764.17 L588.0,764.23 L590.0,764.29 L592.0,764.35 L594.0,764.41 L596.0,764.47 L598.0,764.54 L600.0,764.60 L602.0,764.66 L604.0,764.73 L606.0,764.80 L608.0,764.87 L610.0,764.94 L612.0,765.01 L614.0,765.08 L616.0,765.15 L618.0,765.22 L620.0,765.30 L622.0,765.37 L624.0,765.45 L626.0,765.52 L628.0,765.60 L630.0,765.68 L632.0,765.76 L634.0,765.84 L636.0,765.92 L638.0,766.00 L640.0,766.08 L642.0,766.17 L644.0,766.25 L646.0,766.33 L648.0,766.42 L650.0,766.50 L652.0,766.59 L654.0,766.68 L656.0,766.77 L658.0,766.86 L660.0,766.94 L662.0,767.03 L664.0,767.13 L666.0,767.22 L668.0,767.31 L670.0,767.40 L672.0,767.49 L674.0,767.59 L676.0,767.68 L678.0,767.78 L680.0,767.87 L682.0,767.97 L684.0,768.06 L686.0,768.16 L688.0,768.26 L690.0,768.35 L692.0,768.45 L694.0,768.55 L696.0,768.65 L698.0,768.75 L700.0,768.85 L702.0,768.95 L704.0,769.05 L706.0,769.15 L708.0,769.25 L710.0,769.35 L712.0,769.45 L714.0,769.55 L716.0,769.65 L718.0,769.76 L720.0,769.86 L722.0,769.96 L724.0,770.06 L726.0,770.17 L728.0,770.27 L730.0,770.37 L732.0,770.48 L734.0,770.58 L736.0,770.68 L738.0,770.79 L740.0,770.89 L742.0,771.00 L744.0,771.10 L746.0,771.20 L748.0,771.31 L750.0,771.41 L752.0,771.52 L754.0,771.62 L756.0,771.73 L758.0,771.83 L760.0,771.94 L762.0,772.04 L764.0,772.14 L766.0,772.25 L768.0,772.35 L770.0,772.46 L772.0,772.56 L774.0,772.67 L776.0,772.77 L778.0,772.87 L780.0,772.98 L782.0,773.08 L784.0,773.18 L786.0,773.28 L788.0,773.39 L790.0,773.49 L792.0,773.59 L794.0,773.69 L796.0,773.80 L798.0,773.90 L800.0,774.00 L802.0,774.10 L804.0,774.20 L806.0,774.30 L808.0,774.40 L810.0,774.50 L812.0,774.60 L814.0,774.70 L816.0,774.79 L818.0,774.89 L820.0,774.99 L822.0,775.09 L824.0,775.18 L826.0,775.28 L828.0,775.37 L830.0,775.47 L832.0,775.56 L834.0,775.66 L836.0,775.75 L838.0,775.84 L840.0,775.94 L842.0,776.03 L844.0,776.12 L846.0,776.21 L848.0,776.30 L850.0,776.39 L852.0,776.48 L854.0,776.57 L856.0,776.65 L858.0,776.74 L860.0,776.83 L862.0,776.91 L864.0,776.99 L866.0,777.08 L868.0,777.16 L870.0,777.24 L872.0,777.33 L874.0,777.41 L876.0,777.49 L878.0,777.56 L880.0,777.64 L882.0,777.72 L884.0,777.80 L886.0,777.87 L888.0,777.95 L890.0,778.02 L892.0,778.09 L894.0,778.17 L896.0,778.24 L898.0,778.31 L900.0,778.38 L902.0,778.44 L904.0,778.51 L906.0,778.58 L908.0,778.64 L910.0,778.71 L912.0,778.77 L914.0,778.83 L916.0,778.89 L918.0,778.95 L920.0,779.01 L922.0,779.07 L924.0,779.12 L926.0,779.18 L928.0,779.23 L930.0,779.29 L932.0,779.34 L934.0,779.39 L936.0,779.44 L938.0,779.49 L940.0,779.53 L942.0,779.58 L944.0,779.62 L946.0,779.67 L948.0,779.71 L950.0,779.75 L952.0,779.79 L954.0,779.83 L956.0,779.86 L958.0,779.90 L960.0,779.93 L1203.0,779.20" fill="none" stroke="#ff2bff" stroke-width="3.4" stroke-linejoin="round"/>
<rect x="199.4" y="36" width="1006.3000000000001" height="745.5" fill="none" stroke="#000" stroke-width="6"/>
<line x1="196.40" y1="782.00" x2="1208.70" y2="782.00" stroke="#000" stroke-width="7" stroke-linecap="butt"/>
<line x1="199.40" y1="781.50" x2="199.40" y2="798.50" stroke="#000" stroke-width="5" stroke-linecap="butt"/>
<line x1="283.26" y1="781.50" x2="283.26" y2="792.00" stroke="#000" stroke-width="5" stroke-linecap="butt"/>
<line x1="367.12" y1="781.50" x2="367.12" y2="798.50" stroke="#000" stroke-width="5" stroke-linecap="butt"/>
<line x1="450.98" y1="781.50" x2="450.98" y2="792.00" stroke="#000" stroke-width="5" stroke-linecap="butt"/>
<line x1="534.83" y1="781.50" x2="534.83" y2="798.50" stroke="#000" stroke-width="5" stroke-linecap="butt"/>
<line x1="618.69" y1="781.50" x2="618.69" y2="792.00" stroke="#000" stroke-width="5" stroke-linecap="butt"/>
<line x1="702.55" y1="781.50" x2="702.55" y2="798.50" stroke="#000" stroke-width="5" stroke-linecap="butt"/>
<line x1="786.41" y1="781.50" x2="786.41" y2="792.00" stroke="#000" stroke-width="5" stroke-linecap="butt"/>
<line x1="870.27" y1="781.50" x2="870.27" y2="798.50" stroke="#000" stroke-width="5" stroke-linecap="butt"/>
<line x1="954.13" y1="781.50" x2="954.13" y2="792.00" stroke="#000" stroke-width="5" stroke-linecap="butt"/>
<line x1="1037.98" y1="781.50" x2="1037.98" y2="798.50" stroke="#000" stroke-width="5" stroke-linecap="butt"/>
<line x1="1121.84" y1="781.50" x2="1121.84" y2="792.00" stroke="#000" stroke-width="5" stroke-linecap="butt"/>
<line x1="1205.70" y1="781.50" x2="1205.70" y2="798.50" stroke="#000" stroke-width="5" stroke-linecap="butt"/>
<text x="199.40" y="838.50" font-size="45" text-anchor="middle" fill="#000">350</text>
<text x="367.12" y="838.50" font-size="45" text-anchor="middle" fill="#000">400</text>
<text x="534.83" y="838.50" font-size="45" text-anchor="middle" fill="#000">450</text>
<text x="702.55" y="838.50" font-size="45" text-anchor="middle" fill="#000">500</text>
<text x="870.27" y="838.50" font-size="45" text-anchor="middle" fill="#000">550</text>
<text x="1037.98" y="838.50" font-size="45" text-anchor="middle" fill="#000">600</text>
<text x="1205.70" y="838.50" font-size="45" text-anchor="middle" fill="#000">650</text>
<text x="427.55" y="904.50" font-size="77" textLength="551.22" lengthAdjust="spacingAndGlyphs" fill="#000">Wavelength (nm)</text>
<text transform="translate(163.50,707.00) rotate(-90)" x="-0.73" y="0" font-size="78" textLength="566.01" lengthAdjust="spacingAndGlyphs" fill="#000">Absorbance (a.u.)</text>
<text x="96.81" y="94.00" font-size="71" textLength="89.87" lengthAdjust="spacingAndGlyphs" fill="#000">(a)</text>
<rect x="1451" y="43" width="1010.3000000000002" height="751.8" fill="none" stroke="#000" stroke-width="6"/>
<line x1="1434.50" y1="43.00" x2="1451.00" y2="43.00" stroke="#000" stroke-width="5" stroke-linecap="butt"/>
<line x1="1441.50" y1="89.99" x2="1451.00" y2="89.99" stroke="#000" stroke-width="5" stroke-linecap="butt"/>
<line x1="1434.50" y1="136.97" x2="1451.00" y2="136.97" stroke="#000" stroke-width="5" stroke-linecap="butt"/>
<line x1="1441.50" y1="183.96" x2="1451.00" y2="183.96" stroke="#000" stroke-width="5" stroke-linecap="butt"/>
<line x1="1434.50" y1="230.95" x2="1451.00" y2="230.95" stroke="#000" stroke-width="5" stroke-linecap="butt"/>
<line x1="1441.50" y1="277.94" x2="1451.00" y2="277.94" stroke="#000" stroke-width="5" stroke-linecap="butt"/>
<line x1="1434.50" y1="324.92" x2="1451.00" y2="324.92" stroke="#000" stroke-width="5" stroke-linecap="butt"/>
<line x1="1441.50" y1="371.91" x2="1451.00" y2="371.91" stroke="#000" stroke-width="5" stroke-linecap="butt"/>
<line x1="1434.50" y1="418.90" x2="1451.00" y2="418.90" stroke="#000" stroke-width="5" stroke-linecap="butt"/>
<line x1="1441.50" y1="465.89" x2="1451.00" y2="465.89" stroke="#000" stroke-width="5" stroke-linecap="butt"/>
<line x1="1434.50" y1="512.88" x2="1451.00" y2="512.88" stroke="#000" stroke-width="5" stroke-linecap="butt"/>
<line x1="1441.50" y1="559.86" x2="1451.00" y2="559.86" stroke="#000" stroke-width="5" stroke-linecap="butt"/>
<line x1="1434.50" y1="606.85" x2="1451.00" y2="606.85" stroke="#000" stroke-width="5" stroke-linecap="butt"/>
<line x1="1441.50" y1="653.84" x2="1451.00" y2="653.84" stroke="#000" stroke-width="5" stroke-linecap="butt"/>
<line x1="1434.50" y1="700.82" x2="1451.00" y2="700.82" stroke="#000" stroke-width="5" stroke-linecap="butt"/>
<line x1="1441.50" y1="747.81" x2="1451.00" y2="747.81" stroke="#000" stroke-width="5" stroke-linecap="butt"/>
<line x1="1434.50" y1="794.80" x2="1451.00" y2="794.80" stroke="#000" stroke-width="5" stroke-linecap="butt"/>
<line x1="1450.38" y1="794.80" x2="1450.38" y2="804.80" stroke="#000" stroke-width="5" stroke-linecap="butt"/>
<line x1="1522.50" y1="794.80" x2="1522.50" y2="811.60" stroke="#000" stroke-width="5" stroke-linecap="butt"/>
<line x1="1594.62" y1="794.80" x2="1594.62" y2="804.80" stroke="#000" stroke-width="5" stroke-linecap="butt"/>
<line x1="1666.75" y1="794.80" x2="1666.75" y2="811.60" stroke="#000" stroke-width="5" stroke-linecap="butt"/>
<line x1="1738.88" y1="794.80" x2="1738.88" y2="804.80" stroke="#000" stroke-width="5" stroke-linecap="butt"/>
<line x1="1811.00" y1="794.80" x2="1811.00" y2="811.60" stroke="#000" stroke-width="5" stroke-linecap="butt"/>
<line x1="1883.12" y1="794.80" x2="1883.12" y2="804.80" stroke="#000" stroke-width="5" stroke-linecap="butt"/>
<line x1="1955.25" y1="794.80" x2="1955.25" y2="811.60" stroke="#000" stroke-width="5" stroke-linecap="butt"/>
<line x1="2027.38" y1="794.80" x2="2027.38" y2="804.80" stroke="#000" stroke-width="5" stroke-linecap="butt"/>
<line x1="2099.50" y1="794.80" x2="2099.50" y2="811.60" stroke="#000" stroke-width="5" stroke-linecap="butt"/>
<line x1="2171.62" y1="794.80" x2="2171.62" y2="804.80" stroke="#000" stroke-width="5" stroke-linecap="butt"/>
<line x1="2243.75" y1="794.80" x2="2243.75" y2="811.60" stroke="#000" stroke-width="5" stroke-linecap="butt"/>
<line x1="2315.88" y1="794.80" x2="2315.88" y2="804.80" stroke="#000" stroke-width="5" stroke-linecap="butt"/>
<line x1="2388.00" y1="794.80" x2="2388.00" y2="811.60" stroke="#000" stroke-width="5" stroke-linecap="butt"/>
<line x1="2460.12" y1="794.80" x2="2460.12" y2="804.80" stroke="#000" stroke-width="5" stroke-linecap="butt"/>
<text x="1369.46" y="55.50" font-size="45" fill="#000">0.0</text>
<text x="1354.41" y="149.47" font-size="45" fill="#000">-0.5</text>
<text x="1354.48" y="243.45" font-size="45" fill="#000">-1.0</text>
<text x="1354.41" y="337.42" font-size="45" fill="#000">-1.5</text>
<text x="1354.48" y="431.40" font-size="45" fill="#000">-2.0</text>
<text x="1354.41" y="525.38" font-size="45" fill="#000">-2.5</text>
<text x="1354.48" y="619.35" font-size="45" fill="#000">-3.0</text>
<text x="1354.41" y="713.32" font-size="45" fill="#000">-3.5</text>
<text x="1354.48" y="807.30" font-size="45" fill="#000">-4.0</text>
<text x="1522.50" y="854.50" font-size="45" text-anchor="middle" fill="#000">1.0</text>
<text x="1666.75" y="854.50" font-size="45" text-anchor="middle" fill="#000">1.5</text>
<text x="1811.00" y="854.50" font-size="45" text-anchor="middle" fill="#000">2.0</text>
<text x="1955.25" y="854.50" font-size="45" text-anchor="middle" fill="#000">2.5</text>
<text x="2099.50" y="854.50" font-size="45" text-anchor="middle" fill="#000">3.0</text>
<text x="2243.75" y="854.50" font-size="45" text-anchor="middle" fill="#000">3.5</text>
<text x="2388.00" y="854.50" font-size="45" text-anchor="middle" fill="#000">4.0</text>
<line x1="1521.70" y1="101.60" x2="2389.00" y2="713.80" stroke="#ff2020" stroke-width="3" stroke-linecap="butt"/>
<rect x="1515.4" y="115.6" width="14.4" height="14.4" fill="#000"/>
<rect x="1804.3" y="283.1" width="14.4" height="14.4" fill="#000"/>
<rect x="2092.7" y="474.2" width="14.4" height="14.4" fill="#000"/>
<rect x="2380.8" y="729.6" width="14.4" height="14.4" fill="#000"/>
<text x="1528.02" y="636.90" font-size="80" textLength="58.27" lengthAdjust="spacingAndGlyphs" fill="#000">R</text>
<text x="1583" y="594" font-size="46">2</text>
<text x="1600.53" y="636.90" font-size="80" textLength="224.81" lengthAdjust="spacingAndGlyphs" fill="#000">=0.986</text>
<text x="1528.38" y="730.70" font-size="78" textLength="454.29" lengthAdjust="spacingAndGlyphs" fill="#000">K=-1.081/min</text>
<text x="1769.18" y="924.60" font-size="78" textLength="375.25" lengthAdjust="spacingAndGlyphs" fill="#000">Time (min)</text>
<text x="1247.49" y="114.00" font-size="75" textLength="97.62" lengthAdjust="spacingAndGlyphs" fill="#000">(b)</text>
<text transform="translate(1323.30,521.00) rotate(-90)" x="-1.54" y="0" font-size="78" textLength="227.12" lengthAdjust="spacingAndGlyphs" fill="#000">ln(C/C</text>
<text transform="translate(1355,297.5) rotate(-90)" x="0" y="0" font-size="50">0</text>
<text transform="translate(1323.30,273.50) rotate(-90)" x="-2.63" y="0" font-size="78" textLength="27.23" lengthAdjust="spacingAndGlyphs" fill="#000">)</text>
<rect x="268.7" y="1088.0" width="100.6" height="633.0" fill="url(#hatch)" stroke="#111" stroke-width="3"/>
<rect x="519.3" y="1090.7" width="100.6" height="630.3" fill="url(#hatch)" stroke="#111" stroke-width="3"/>
<rect x="769.9" y="1095.3" width="100.6" height="625.7" fill="url(#hatch)" stroke="#111" stroke-width="3"/>
<rect x="1020.5" y="1100.7" width="100.6" height="620.3" fill="url(#hatch)" stroke="#111" stroke-width="3"/>
<rect x="194" y="975.8" width="1001" height="745.7" fill="none" stroke="#000" stroke-width="5.5"/>
<line x1="176.30" y1="1721.00" x2="194.00" y2="1721.00" stroke="#000" stroke-width="5" stroke-linecap="butt"/>
<line x1="182.60" y1="1656.20" x2="194.00" y2="1656.20" stroke="#000" stroke-width="5" stroke-linecap="butt"/>
<line x1="176.30" y1="1591.40" x2="194.00" y2="1591.40" stroke="#000" stroke-width="5" stroke-linecap="butt"/>
<line x1="182.60" y1="1526.60" x2="194.00" y2="1526.60" stroke="#000" stroke-width="5" stroke-linecap="butt"/>
<line x1="176.30" y1="1461.80" x2="194.00" y2="1461.80" stroke="#000" stroke-width="5" stroke-linecap="butt"/>
<line x1="182.60" y1="1397.00" x2="194.00" y2="1397.00" stroke="#000" stroke-width="5" stroke-linecap="butt"/>
<line x1="176.30" y1="1332.20" x2="194.00" y2="1332.20" stroke="#000" stroke-width="5" stroke-linecap="butt"/>
<line x1="182.60" y1="1267.40" x2="194.00" y2="1267.40" stroke="#000" stroke-width="5" stroke-linecap="butt"/>
<line x1="176.30" y1="1202.60" x2="194.00" y2="1202.60" stroke="#000" stroke-width="5" stroke-linecap="butt"/>
<line x1="182.60" y1="1137.80" x2="194.00" y2="1137.80" stroke="#000" stroke-width="5" stroke-linecap="butt"/>
<line x1="176.30" y1="1073.00" x2="194.00" y2="1073.00" stroke="#000" stroke-width="5" stroke-linecap="butt"/>
<line x1="182.60" y1="1008.20" x2="194.00" y2="1008.20" stroke="#000" stroke-width="5" stroke-linecap="butt"/>
<line x1="193.70" y1="1721.50" x2="193.70" y2="1731.00" stroke="#000" stroke-width="5" stroke-linecap="butt"/>
<line x1="319.00" y1="1721.50" x2="319.00" y2="1737.20" stroke="#000" stroke-width="5" stroke-linecap="butt"/>
<line x1="444.30" y1="1721.50" x2="444.30" y2="1731.00" stroke="#000" stroke-width="5" stroke-linecap="butt"/>
<line x1="569.60" y1="1721.50" x2="569.60" y2="1737.20" stroke="#000" stroke-width="5" stroke-linecap="butt"/>
<line x1="694.90" y1="1721.50" x2="694.90" y2="1731.00" stroke="#000" stroke-width="5" stroke-linecap="butt"/>
<line x1="820.20" y1="1721.50" x2="820.20" y2="1737.20" stroke="#000" stroke-width="5" stroke-linecap="butt"/>
<line x1="945.50" y1="1721.50" x2="945.50" y2="1731.00" stroke="#000" stroke-width="5" stroke-linecap="butt"/>
<line x1="1070.80" y1="1721.50" x2="1070.80" y2="1737.20" stroke="#000" stroke-width="5" stroke-linecap="butt"/>
<line x1="1196.10" y1="1721.50" x2="1196.10" y2="1731.00" stroke="#000" stroke-width="5" stroke-linecap="butt"/>
<text x="110.96" y="1733.50" font-size="45" fill="#000">0.0</text>
<text x="111.18" y="1603.90" font-size="45" fill="#000">0.2</text>
<text x="110.08" y="1474.30" font-size="45" fill="#000">0.4</text>
<text x="110.57" y="1344.70" font-size="45" fill="#000">0.6</text>
<text x="110.74" y="1215.10" font-size="45" fill="#000">0.8</text>
<text x="110.96" y="1085.50" font-size="45" fill="#000">1.0</text>
<text x="319.00" y="1782.50" font-size="45" text-anchor="middle" fill="#000">1</text>
<text x="569.60" y="1782.50" font-size="45" text-anchor="middle" fill="#000">2</text>
<text x="820.20" y="1782.50" font-size="45" text-anchor="middle" fill="#000">3</text>
<text x="1070.80" y="1782.50" font-size="45" text-anchor="middle" fill="#000">4</text>
<text x="483.50" y="1847.00" font-size="79" textLength="381.99" lengthAdjust="spacingAndGlyphs" fill="#000">Cycle times</text>
<text transform="translate(79.50,1648.00) rotate(-90)" x="-1.37" y="0" font-size="78" textLength="563.78" lengthAdjust="spacingAndGlyphs" fill="#000">Degradation (%)</text>
<text x="21.88" y="1036.50" font-size="75" textLength="86.45" lengthAdjust="spacingAndGlyphs" fill="#000">(c)</text>
<rect x="1448" y="974.5" width="1018.3000000000002" height="753.5" fill="none" stroke="#000" stroke-width="5.5"/>
<line x1="1429.00" y1="973.85" x2="1448.00" y2="973.85" stroke="#000" stroke-width="5" stroke-linecap="butt"/>
<line x1="1436.30" y1="1015.72" x2="1448.00" y2="1015.72" stroke="#000" stroke-width="5" stroke-linecap="butt"/>
<line x1="1429.00" y1="1057.60" x2="1448.00" y2="1057.60" stroke="#000" stroke-width="5" stroke-linecap="butt"/>
<line x1="1436.30" y1="1099.47" x2="1448.00" y2="1099.47" stroke="#000" stroke-width="5" stroke-linecap="butt"/>
<line x1="1429.00" y1="1141.35" x2="1448.00" y2="1141.35" stroke="#000" stroke-width="5" stroke-linecap="butt"/>
<line x1="1436.30" y1="1183.22" x2="1448.00" y2="1183.22" stroke="#000" stroke-width="5" stroke-linecap="butt"/>
<line x1="1429.00" y1="1225.10" x2="1448.00" y2="1225.10" stroke="#000" stroke-width="5" stroke-linecap="butt"/>
<line x1="1436.30" y1="1266.97" x2="1448.00" y2="1266.97" stroke="#000" stroke-width="5" stroke-linecap="butt"/>
<line x1="1429.00" y1="1308.85" x2="1448.00" y2="1308.85" stroke="#000" stroke-width="5" stroke-linecap="butt"/>
<line x1="1436.30" y1="1350.72" x2="1448.00" y2="1350.72" stroke="#000" stroke-width="5" stroke-linecap="butt"/>
<line x1="1429.00" y1="1392.60" x2="1448.00" y2="1392.60" stroke="#000" stroke-width="5" stroke-linecap="butt"/>
<line x1="1436.30" y1="1434.47" x2="1448.00" y2="1434.47" stroke="#000" stroke-width="5" stroke-linecap="butt"/>
<line x1="1429.00" y1="1476.35" x2="1448.00" y2="1476.35" stroke="#000" stroke-width="5" stroke-linecap="butt"/>
<line x1="1436.30" y1="1518.22" x2="1448.00" y2="1518.22" stroke="#000" stroke-width="5" stroke-linecap="butt"/>
<line x1="1429.00" y1="1560.10" x2="1448.00" y2="1560.10" stroke="#000" stroke-width="5" stroke-linecap="butt"/>
<line x1="1436.30" y1="1601.97" x2="1448.00" y2="1601.97" stroke="#000" stroke-width="5" stroke-linecap="butt"/>
<line x1="1429.00" y1="1643.85" x2="1448.00" y2="1643.85" stroke="#000" stroke-width="5" stroke-linecap="butt"/>
<line x1="1436.30" y1="1685.72" x2="1448.00" y2="1685.72" stroke="#000" stroke-width="5" stroke-linecap="butt"/>
<line x1="1429.00" y1="1727.60" x2="1448.00" y2="1727.60" stroke="#000" stroke-width="5" stroke-linecap="butt"/>
<line x1="1447.05" y1="1728.00" x2="1447.05" y2="1738.00" stroke="#000" stroke-width="5" stroke-linecap="butt"/>
<line x1="1519.80" y1="1728.00" x2="1519.80" y2="1745.50" stroke="#000" stroke-width="5" stroke-linecap="butt"/>
<line x1="1592.55" y1="1728.00" x2="1592.55" y2="1738.00" stroke="#000" stroke-width="5" stroke-linecap="butt"/>
<line x1="1665.30" y1="1728.00" x2="1665.30" y2="1745.50" stroke="#000" stroke-width="5" stroke-linecap="butt"/>
<line x1="1738.05" y1="1728.00" x2="1738.05" y2="1738.00" stroke="#000" stroke-width="5" stroke-linecap="butt"/>
<line x1="1810.80" y1="1728.00" x2="1810.80" y2="1745.50" stroke="#000" stroke-width="5" stroke-linecap="butt"/>
<line x1="1883.55" y1="1728.00" x2="1883.55" y2="1738.00" stroke="#000" stroke-width="5" stroke-linecap="butt"/>
<line x1="1956.30" y1="1728.00" x2="1956.30" y2="1745.50" stroke="#000" stroke-width="5" stroke-linecap="butt"/>
<line x1="2029.05" y1="1728.00" x2="2029.05" y2="1738.00" stroke="#000" stroke-width="5" stroke-linecap="butt"/>
<line x1="2101.80" y1="1728.00" x2="2101.80" y2="1745.50" stroke="#000" stroke-width="5" stroke-linecap="butt"/>
<line x1="2174.55" y1="1728.00" x2="2174.55" y2="1738.00" stroke="#000" stroke-width="5" stroke-linecap="butt"/>
<line x1="2247.30" y1="1728.00" x2="2247.30" y2="1745.50" stroke="#000" stroke-width="5" stroke-linecap="butt"/>
<line x1="2320.05" y1="1728.00" x2="2320.05" y2="1738.00" stroke="#000" stroke-width="5" stroke-linecap="butt"/>
<line x1="2392.80" y1="1728.00" x2="2392.80" y2="1745.50" stroke="#000" stroke-width="5" stroke-linecap="butt"/>
<line x1="2465.55" y1="1728.00" x2="2465.55" y2="1738.00" stroke="#000" stroke-width="5" stroke-linecap="butt"/>
<text x="1365.40" y="986.35" font-size="45" fill="#000">0.5</text>
<text x="1365.46" y="1070.10" font-size="45" fill="#000">0.0</text>
<text x="1350.41" y="1153.85" font-size="45" fill="#000">-0.5</text>
<text x="1350.48" y="1237.60" font-size="45" fill="#000">-1.0</text>
<text x="1350.41" y="1321.35" font-size="45" fill="#000">-1.5</text>
<text x="1350.48" y="1405.10" font-size="45" fill="#000">-2.0</text>
<text x="1350.41" y="1488.85" font-size="45" fill="#000">-2.5</text>
<text x="1350.48" y="1572.60" font-size="45" fill="#000">-3.0</text>
<text x="1350.41" y="1656.35" font-size="45" fill="#000">-3.5</text>
<text x="1350.48" y="1740.10" font-size="45" fill="#000">-4.0</text>
<text x="1519.80" y="1790.00" font-size="46" text-anchor="middle" fill="#000">0</text>
<text x="1665.30" y="1790.00" font-size="46" text-anchor="middle" fill="#000">10</text>
<text x="1810.80" y="1790.00" font-size="46" text-anchor="middle" fill="#000">20</text>
<text x="1956.30" y="1790.00" font-size="46" text-anchor="middle" fill="#000">30</text>
<text x="2101.80" y="1790.00" font-size="46" text-anchor="middle" fill="#000">40</text>
<text x="2247.30" y="1790.00" font-size="46" text-anchor="middle" fill="#000">50</text>
<text x="2392.80" y="1790.00" font-size="46" text-anchor="middle" fill="#000">60</text>
<path d="M1519.8,1058 Q1556.2,1066 1592.5,1070.5 L1665.3,1070.7 L1810.8,1071 L1956.3,1071.2 L2101.8,1071.5 L2247.3,1072.8 L2392.8,1073" fill="none" stroke="#111" stroke-width="3.5"/>
<path d="M1519.8,1058.3 L1592.5,1111 L1665.3,1111 L1810.8,1111.3 L1956.3,1111.8 L2101.8,1112.8 L2247.3,1113.3 L2392.8,1114.5" fill="none" stroke="#1414ff" stroke-width="3.5"/>
<rect x="1511.8" y="1050.0" width="16" height="16" fill="#000"/>
<rect x="1584.5" y="1062.5" width="16" height="16" fill="#000"/>
<rect x="1657.3" y="1062.7" width="16" height="16" fill="#000"/>
<rect x="1802.8" y="1063.0" width="16" height="16" fill="#000"/>
<rect x="1948.3" y="1063.2" width="16" height="16" fill="#000"/>
<rect x="2093.8" y="1063.5" width="16" height="16" fill="#000"/>
<rect x="2239.3" y="1064.8" width="16" height="16" fill="#000"/>
<rect x="2384.8" y="1065.0" width="16" height="16" fill="#000"/>
<circle cx="1519.8" cy="1058.3" r="9" fill="#0000ff"/>
<circle cx="1592.5" cy="1111" r="9" fill="#0000ff"/>
<circle cx="1665.3" cy="1111" r="9" fill="#0000ff"/>
<circle cx="1810.8" cy="1111.3" r="9" fill="#0000ff"/>
<circle cx="1956.3" cy="1111.8" r="9" fill="#0000ff"/>
<circle cx="2101.8" cy="1112.8" r="9" fill="#0000ff"/>
<circle cx="2247.3" cy="1113.3" r="9" fill="#0000ff"/>
<circle cx="2392.8" cy="1114.5" r="9" fill="#0000ff"/>
<line x1="1810.00" y1="1542.90" x2="1894.30" y2="1542.90" stroke="#111" stroke-width="3.5" stroke-linecap="butt"/>
<rect x="1844.6" y="1534.9" width="16" height="16" fill="#000"/>
<text x="1907.05" y="1555.00" font-size="46" textLength="489.72" lengthAdjust="spacingAndGlyphs" fill="#000">AC-1-Ag (without NaBH</text>
<text x="2397.5" y="1573" font-size="24.5">4</text>
<text x="2412.02" y="1555.00" font-size="44" textLength="16.34" lengthAdjust="spacingAndGlyphs" fill="#000">)</text>
<line x1="1810.00" y1="1616.40" x2="1894.30" y2="1616.40" stroke="#1414ff" stroke-width="3.5" stroke-linecap="butt"/>
<circle cx="1852.6" cy="1616.4" r="9" fill="#0000ff"/>
<text x="1903.72" y="1628.10" font-size="46.5" textLength="234.55" lengthAdjust="spacingAndGlyphs" fill="#0000ff">Only NaBH</text>
<text x="2138.5" y="1647" font-size="24.5" fill="#0000ff">4</text>
<text x="1762.74" y="1862.50" font-size="78" textLength="388.62" lengthAdjust="spacingAndGlyphs" fill="#000">Time (min)</text>
<text transform="translate(1303.20,1545.40) rotate(-90)" x="-1.60" y="0" font-size="79" textLength="237.26" lengthAdjust="spacingAndGlyphs" fill="#000">ln(C/C</text>
<text transform="translate(1333.8,1311.3) rotate(-90)" x="0" y="0" font-size="46">0</text>
<text transform="translate(1303.20,1287.20) rotate(-90)" x="-2.92" y="0" font-size="79" textLength="30.21" lengthAdjust="spacingAndGlyphs" fill="#000">)</text>
<text x="1237.45" y="1038.50" font-size="78" textLength="101.39" lengthAdjust="spacingAndGlyphs" fill="#000">(d)</text>
</svg>
</body></html>
